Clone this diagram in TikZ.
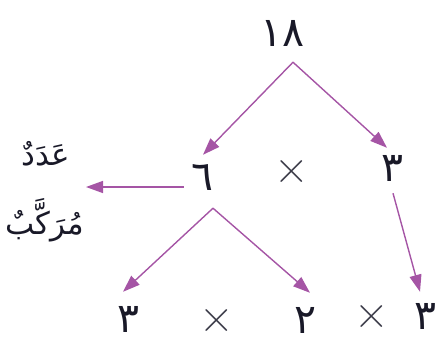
\documentclass[tikz,border=0pt]{standalone}
\usepackage{fontspec}
\usetikzlibrary{arrows.meta}
\TeXXeTstate=1
\newfontfamily\arabicfont[Script=Arabic]{DejaVu Sans}
\definecolor{arrowpink}{RGB}{165,85,165}
\definecolor{ink}{RGB}{25,25,40}
\tikzset{
  num/.style={font=\fontsize{41}{44}\selectfont\arabicfont, text=ink, inner sep=0pt},
  timesign/.style={font=\fontsize{48}{50}\selectfont, text=ink!85, inner sep=0pt},
  word/.style={font=\fontsize{31}{34}\selectfont\arabicfont, text=ink, inner sep=0pt},
  arr/.style={draw=arrowpink, line width=1.4pt, -{Triangle[length=17pt,width=12pt]}}
}
\begin{document}
\begin{tikzpicture}[x=10pt,y=10pt]
  \useasboundingbox (0,0) rectangle (43.9,-34.3);
  % top number
  \node[num] (n18) at (28.3,-3.3) {١٨};
  % middle row
  \node[num] (n6) at (20.3,-17.7) {٦};
  \node[timesign] (x1) at (29.2,-17.2) {×};
  \node[num] (n3) at (39.3,-16.8) {٣};
  % label on the left
  \node[word] (w1) at (4.6,-15.4) {\beginR عَدَدٌ\endR};
  \node[word] (w2) at (4.5,-22.0) {\beginR مُرَكَّبٌ\endR};
  \coordinate (lbl) at (8.6,-18.7);
  % bottom row
  \node[num] (b3) at (12.9,-31.9) {٣};
  \node[timesign] (x2) at (21.7,-32.1) {×};
  \node[num] (b2) at (30.6,-32.0) {٢};
  \node[timesign] (x3) at (37.2,-31.7) {×};
  \node[num] (b3r) at (42.6,-31.6) {٣};
  % arrows
  \draw[arr] ([shift={(1,-1.6)}]n18.south) -- ([shift={(0,0.9)}]n6.north);
  \draw[arr] ([shift={(1,-1.6)}]n18.south) -- ([shift={(-0.6,0.7)}]n3.north);
  \draw[arr] ([shift={(-0.8,-1)}]n6.west) -- (lbl);
  \draw[arr] ([shift={(1,-1.8)}]n6.south) -- ([shift={(-0.6,1.4)}]b3.north);
  \draw[arr] ([shift={(1,-1.8)}]n6.south) -- ([shift={(0.4,1.4)}]b2.north);
  \draw[arr] ([shift={(0,-1.2)}]n3.south) -- ([shift={(-0.6,1.1)}]b3r.north);
\end{tikzpicture}
\end{document}
